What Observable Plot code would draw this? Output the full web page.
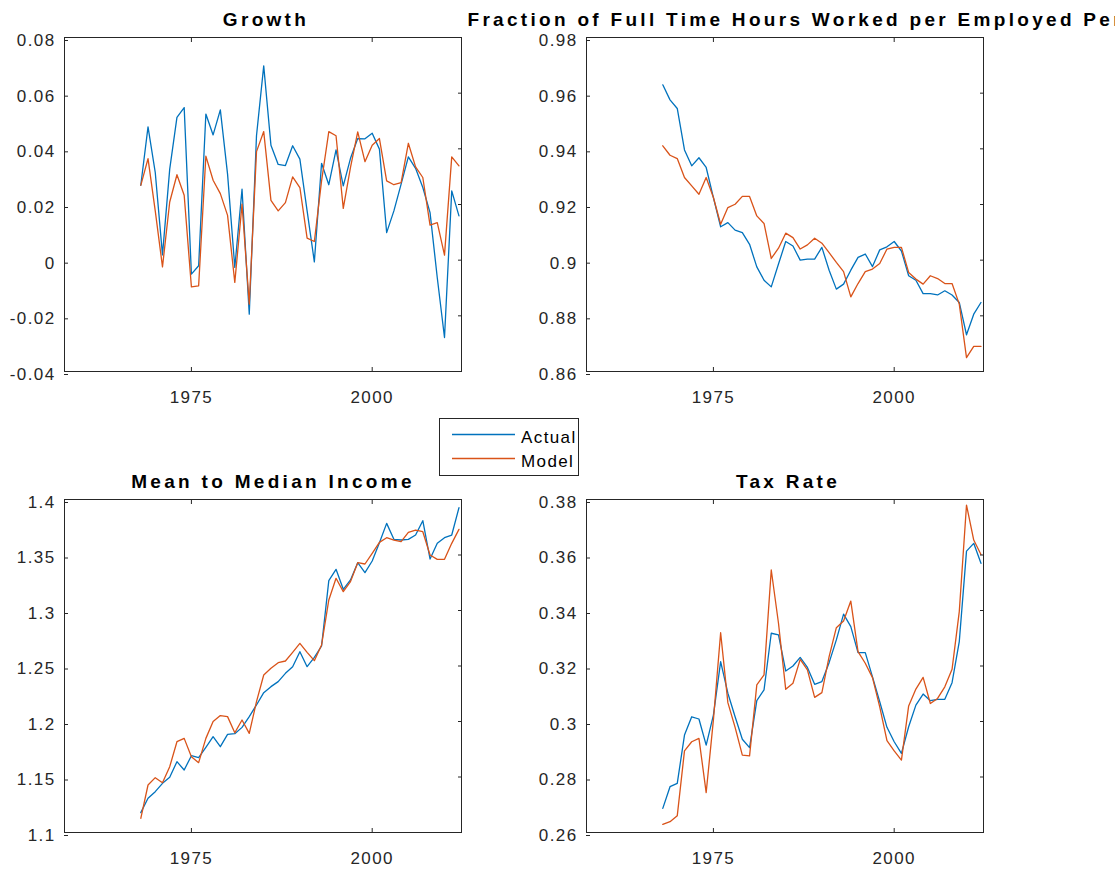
<!DOCTYPE html>
<html><head><meta charset="utf-8">
<script src="https://cdn.jsdelivr.net/npm/d3@7"></script>
<script src="https://cdn.jsdelivr.net/npm/@observablehq/plot@0.6"></script>
<style>
body{margin:0;background:#fff;}
#wrap{position:relative;width:1115px;height:871px;overflow:hidden;font-family:"Liberation Sans",Arial,sans-serif;background:#fff;}
.panel{position:absolute;}
.panel svg{overflow:visible;}
.panel svg text{letter-spacing:1.4px;}
.panel svg .ttl text{letter-spacing:3.3px;}
#legend{position:absolute;left:439px;top:418px;width:140px;height:58px;}
</style></head><body><div id="wrap"></div>
<script>
const years = [1968,1969,1970,1971,1972,1973,1974,1975,1976,1977,1978,1979,1980,1981,1982,1983,1984,1985,1986,1987,1988,1989,1990,1991,1992,1993,1994,1995,1996,1997,1998,1999,2000,2001,2002,2003,2004,2005,2006,2007,2008,2009,2010,2011,2012];

const growthActual = [0.0269,0.0479,0.0315,0.0019,0.0327,0.0513,0.0548,-0.0050,-0.0020,0.0525,
  0.0450,0.0540,0.0309,-0.0026,0.0255,-0.0194,0.0447,0.0698,0.0413,0.0344,
  0.0340,0.0411,0.0363,0.0177,-0.0006,0.0348,0.0271,0.0396,0.0267,0.0366,
  0.0437,0.0436,0.0456,0.0399,0.0099,0.0177,0.0273,0.0371,0.0330,0.0261,
  0.0171,-0.0063,-0.0278,0.0249,0.0159];
const growthModel = [0.0269,0.0365,0.0177,-0.0024,0.0209,0.0307,0.0233,-0.0096,-0.0092,0.0374,
  0.0287,0.0239,0.0161,-0.0080,0.0201,-0.0158,0.0390,0.0462,0.0215,0.0177,
  0.0207,0.0299,0.0261,0.0079,0.0067,0.0285,0.0462,0.0447,0.0186,0.0333,
  0.0461,0.0354,0.0413,0.0437,0.0285,0.0271,0.0279,0.0420,0.0335,0.0297,
  0.0126,0.0135,0.0018,0.0371,0.0339];

const hoursActual = [0.9630,0.9576,0.9545,0.9396,0.9339,0.9368,0.9333,0.9225,0.9120,0.9135,
  0.9108,0.9099,0.9057,0.8976,0.8928,0.8904,0.8986,0.9067,0.9051,0.9000,
  0.9004,0.9004,0.9046,0.8964,0.8896,0.8914,0.8964,0.9010,0.9022,0.8977,
  0.9037,0.9048,0.9067,0.9033,0.8944,0.8928,0.8880,0.8880,0.8875,0.8890,
  0.8875,0.8848,0.8732,0.8806,0.8848];
const hoursModel = [0.9411,0.9377,0.9365,0.9297,0.9267,0.9237,0.9297,0.9225,0.9129,0.9189,
  0.9201,0.9229,0.9229,0.9159,0.9132,0.9006,0.9043,0.9097,0.9081,0.9040,
  0.9055,0.9079,0.9061,0.9027,0.8992,0.8959,0.8868,0.8916,0.8959,0.8968,
  0.8988,0.9040,0.9046,0.9046,0.8956,0.8932,0.8914,0.8944,0.8934,0.8916,
  0.8916,0.8842,0.8650,0.8690,0.8690];

const incomeActual = [1.1179,1.1308,1.1368,1.1443,1.1497,1.1638,1.1563,1.1692,1.1674,1.1767,
  1.1863,1.1773,1.1884,1.1890,1.1947,1.2044,1.2149,1.2260,1.2314,1.2359,
  1.2434,1.2494,1.2629,1.2494,1.2578,1.2680,1.3269,1.3371,1.3191,1.3275,
  1.3431,1.3341,1.3446,1.3611,1.3785,1.3641,1.3635,1.3641,1.3680,1.3809,
  1.3464,1.3605,1.3656,1.3680,1.3926];
const incomeModel = [1.1128,1.1428,1.1494,1.1449,1.1593,1.1818,1.1848,1.1683,1.1629,1.1848,
  1.1999,1.2053,1.2044,1.1899,1.2014,1.1893,1.2179,1.2419,1.2479,1.2530,
  1.2545,1.2623,1.2704,1.2623,1.2548,1.2689,1.3095,1.3290,1.3170,1.3260,
  1.3431,1.3419,1.3515,1.3614,1.3656,1.3635,1.3620,1.3704,1.3725,1.3710,
  1.3500,1.3461,1.3461,1.3605,1.3731];

const taxActual = [0.2687,0.2765,0.2777,0.2951,0.3017,0.3009,0.2915,0.3023,0.3216,0.3102,
  0.3017,0.2936,0.2906,0.3075,0.3114,0.3318,0.3312,0.3182,0.3200,0.3231,
  0.3195,0.3134,0.3144,0.3212,0.3294,0.3387,0.3342,0.3248,0.3248,0.3161,
  0.3071,0.2979,0.2927,0.2885,0.2981,0.3059,0.3099,0.3075,0.3080,0.3080,
  0.3140,0.3288,0.3614,0.3642,0.3570];
const taxModel = [0.2629,0.2639,0.2660,0.2894,0.2927,0.2939,0.2744,0.3006,0.3320,0.3068,
  0.2979,0.2879,0.2876,0.3132,0.3168,0.3546,0.3354,0.3116,0.3138,0.3224,
  0.3186,0.3087,0.3104,0.3234,0.3338,0.3362,0.3434,0.3252,0.3210,0.3158,
  0.3053,0.2931,0.2894,0.2861,0.3056,0.3117,0.3159,0.3065,0.3083,0.3125,
  0.3188,0.3396,0.3780,0.3654,0.3602];

const xTicks = [1975, 2000];
const xDomain = [1957.45, 2012.35];
const growthTicks = [-0.04, -0.02, 0, 0.02, 0.04, 0.06, 0.08];
const hoursTicks = [0.86, 0.88, 0.90, 0.92, 0.94, 0.96, 0.98];
const incomeTicks = [1.1, 1.15, 1.2, 1.25, 1.3, 1.35, 1.4];
const taxTicks = [0.26, 0.28, 0.30, 0.32, 0.34, 0.36, 0.38];

const titles = ["Growth", "Fraction of Full Time Hours Worked per Employed Person", "Mean to Median Income", "Tax Rate"];
const seriesNames = ["Actual", "Model"];
const seriesColors = ["#0072BD", "#D95319"];

const fmt = d => String(+d.toFixed(2));
const wrap = document.getElementById("wrap");

function panel(cfg) {
  const {title, actual, model, yTicks, left, top, width, height, margins, titleStartDx, titleDx = 0} = cfg;
  const titleMark = titleStartDx == null
    ? Plot.text([title], {text: d => d, frameAnchor: "top", lineAnchor: "bottom", dx: titleDx, dy: -12, fontSize: 19, fontWeight: "bold", fill: "#000", className: "ttl"})
    : Plot.text([title], {text: d => d, frameAnchor: "top-left", textAnchor: "start", lineAnchor: "bottom", dx: titleStartDx, dy: -12, fontSize: 19, fontWeight: "bold", fill: "#000", className: "ttl"});
  const chart = Plot.plot({
    width, height,
    marginLeft: margins[0], marginTop: margins[1], marginRight: margins[2], marginBottom: margins[3],
    style: {color: "#262626", background: "transparent", fontFamily: "'Liberation Sans', Arial, sans-serif"},
    x: {domain: xDomain},
    y: {domain: [yTicks[0], yTicks[yTicks.length - 1]]},
    marks: [
      Plot.line(actual, {x: years, y: actual, stroke: seriesColors[0], strokeWidth: 1.3}),
      Plot.line(model, {x: years, y: model, stroke: seriesColors[1], strokeWidth: 1.3}),
      Plot.frame({stroke: "#262626", strokeWidth: 1}),
      Plot.axisX({ticks: xTicks, anchor: "bottom", tickSize: -4, tickPadding: 23, fontSize: 17, tickFormat: d => String(d), label: null}),
      Plot.axisX({ticks: xTicks, anchor: "top", tickSize: -4, tickFormat: () => "", label: null}),
      Plot.axisY({ticks: yTicks, anchor: "left", tickSize: -4, tickPadding: 13, dy: 3, fontSize: 17, tickFormat: fmt, label: null}),
      Plot.axisY({ticks: yTicks, anchor: "right", tickSize: -4, tickFormat: () => "", label: null}),
      titleMark
    ]
  });
  const div = document.createElement("div");
  div.className = "panel";
  div.style.left = left + "px";
  div.style.top = top + "px";
  div.appendChild(chart);
  wrap.appendChild(div);
}

panel({title: titles[0], actual: growthActual, model: growthModel, yTicks: growthTicks,
  left: 0, top: 0, width: 520, height: 430, margins: [64, 37, 59, 59], titleDx: 3});
panel({title: titles[1], actual: hoursActual, model: hoursModel, yTicks: hoursTicks,
  left: 520, top: 0, width: 595, height: 430, margins: [66, 37, 132, 59], titleStartDx: -119});
panel({title: titles[2], actual: incomeActual, model: incomeModel, yTicks: incomeTicks,
  left: 0, top: 440, width: 520, height: 431, margins: [64, 59, 59, 39], titleDx: 10});
panel({title: titles[3], actual: taxActual, model: taxModel, yTicks: taxTicks,
  left: 520, top: 440, width: 595, height: 431, margins: [66, 59, 132, 39], titleDx: 3});

// legend
const ns = "http://www.w3.org/2000/svg";
const leg = document.createElementNS(ns, "svg");
leg.setAttribute("id", "legend");
leg.setAttribute("width", 140);
leg.setAttribute("height", 58);
leg.style.position = "absolute";
leg.style.left = "439px";
leg.style.top = "418px";
const rect = document.createElementNS(ns, "rect");
rect.setAttribute("x", 0.5); rect.setAttribute("y", 0.5);
rect.setAttribute("width", 139); rect.setAttribute("height", 57);
rect.setAttribute("fill", "#fff"); rect.setAttribute("stroke", "#262626");
leg.appendChild(rect);
seriesNames.forEach((name, i) => {
  const yy = 16.5 + i * 24;
  const ln = document.createElementNS(ns, "line");
  ln.setAttribute("x1", 13); ln.setAttribute("x2", 76);
  ln.setAttribute("y1", yy); ln.setAttribute("y2", yy);
  ln.setAttribute("stroke", seriesColors[i]); ln.setAttribute("stroke-width", 1.3);
  leg.appendChild(ln);
  const tx = document.createElementNS(ns, "text");
  tx.setAttribute("x", 82); tx.setAttribute("y", yy + 8.3);
  tx.setAttribute("font-size", 17);
  tx.setAttribute("font-family", "'Liberation Sans', Arial, sans-serif");
  tx.setAttribute("letter-spacing", "1.4px");
  tx.setAttribute("fill", "#000");
  tx.textContent = name;
  leg.appendChild(tx);
});
wrap.appendChild(leg);
</script>
</body></html>
